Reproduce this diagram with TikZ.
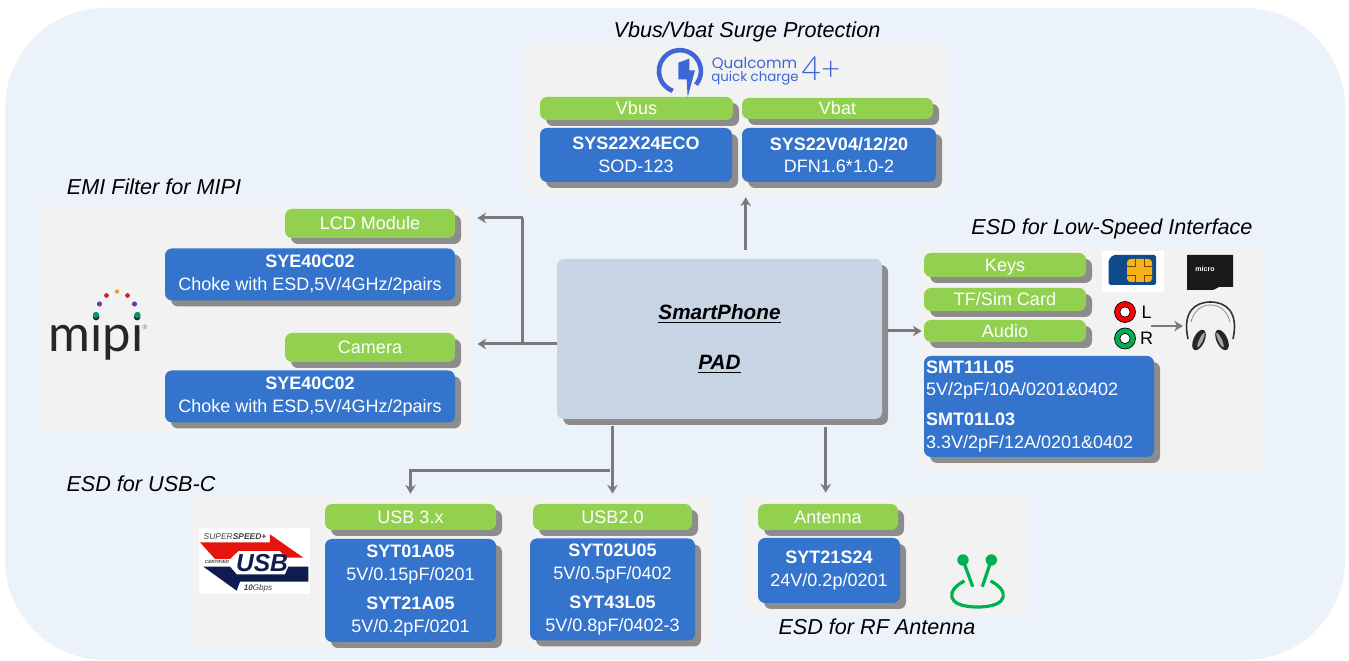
\documentclass[tikz,border=0pt]{standalone}
\usepackage{fontspec}
\setmainfont{Liberation Sans}
\newfontfamily\logofont{Poppins}
\newfontfamily\mipifont{Lato}
\newfontfamily\thinfont{Lato Light}
\usetikzlibrary{arrows.meta,calc,shadows}
\def\pxu{0.02cm}
\definecolor{pagebg}{HTML}{ECF2FA}
\definecolor{panelbg}{HTML}{F2F2F2}
\definecolor{barcol}{HTML}{92D050}
\definecolor{partcol}{HTML}{3574CC}
\definecolor{shadecol}{HTML}{8C8C8C}
\definecolor{phonecol}{HTML}{C7D4E4}
\definecolor{flowcol}{HTML}{7A7A7A}
\definecolor{qcblue}{HTML}{3F66D6}
\definecolor{usbnavy}{HTML}{101C50}
\definecolor{usbred}{HTML}{E5140E}
\definecolor{simblue}{HTML}{0F4A8A}
\definecolor{simgold}{HTML}{F5B21A}
\definecolor{antgreen}{HTML}{00B050}
\definecolor{dotteal}{HTML}{00937A}
\definecolor{dotviolet}{HTML}{6A3D9E}
\definecolor{dotred}{HTML}{D81E2C}
\definecolor{dotorange}{HTML}{F59A2E}
\tikzset{
  boxsize/.style 2 args={minimum width=#1*\pxu, minimum height=#2*\pxu, inner sep=0pt},
  raised/.style={rounded corners=7*\pxu, drop shadow={shadow xshift=6*\pxu, shadow yshift=-6*\pxu, opacity=1, fill=shadecol}},
  panel/.style 2 args={boxsize={#1}{#2}, fill=panelbg},
  greenbar/.style 2 args={boxsize={#1}{#2}, raised, fill=barcol, text=white, text height=8.5pt, text depth=1.5pt, font=\fontsize{10.25}{12}\selectfont},
  partbox/.style 2 args={boxsize={#1}{#2}, raised, fill=partcol, text=white, align=center, font=\fontsize{10.25}{12.8}\selectfont},
  heading/.style={inner sep=0pt, text height=9.6pt, text depth=1.4pt, font=\fontsize{12.3}{14}\selectfont\itshape},
  flow/.style={draw=flowcol, line width=3*\pxu, -{Stealth[length=5pt, width=6pt]}},
  flowline/.style={draw=flowcol, line width=3*\pxu},
  zoomed/.style={x=0.02cm/3, y=-0.02cm/3}
}
\begin{document}
\begin{tikzpicture}[x=\pxu, y=-\pxu]
  \useasboundingbox (0,0) rectangle (1349,661);
  \fill[pagebg, rounded corners=2cm] (5,8) rectangle (1345,660);

  \node[panel={424}{151}] (surgepanel) at (736,119.5) {};
  \node[panel={434}{227}] (mipipanel) at (255,318.5) {};
  \node[panel={344}{223}] (lowpanel) at (1092,357.5) {};
  \node[panel={518}{151}] (usbpanel) at (451,573.5) {};
  \node[panel={282}{118}] (rfpanel) at (887,556) {};

  \node[heading] (surgetitle) at (747,30) {Vbus/Vbat Surge Protection};
  \node[heading] (mipititle) at (154,187) {EMI Filter for MIPI};
  \node[heading] (lowtitle) at (1112,227) {ESD for Low-Speed Interface};
  \node[heading] (usbtitle) at (141,484) {ESD for USB-C};
  \node[heading] (rftitle) at (877,627) {ESD for RF Antenna};

  \node[greenbar={193}{23}] (vbus) at (636.5,108.5) {Vbus};
  \node[greenbar={191}{21}] (vbat) at (837.5,108.5) {Vbat};
  \node[partbox={192}{54}] (surgeA) at (636,155) {\textbf{SYS22X24ECO}\\SOD-123};
  \node[partbox={194}{54}] (surgeB) at (839,155) {\textbf{SYS22V04/12/20}\\DFN1.6*1.0-2};

  \node[greenbar={170}{29}] (lcd) at (370,223.5) {LCD Module};
  \node[partbox={290}{52}] (lcdpart) at (310,274.5) {\textbf{SYE40C02}\\Choke with ESD,5V/4GHz/2pairs};
  \node[greenbar={170}{29}] (camera) at (370,347.5) {Camera};
  \node[partbox={290}{52}] (campart) at (310,396.5) {\textbf{SYE40C02}\\Choke with ESD,5V/4GHz/2pairs};

  \node[greenbar={162}{24}] (keys) at (1005,265) {Keys};
  \node[greenbar={162}{23}] (card) at (1005,299.5) {TF/Sim Card};
  \node[greenbar={162}{22}] (audio) at (1005,331) {Audio};
  \node[partbox={230}{101}, text width=226*\pxu, align=left] (lowpart) at (1039,406.5)
    {\textbf{SMT11L05}\\5V/2pF/10A/0201\&0402\\[4.3pt]\textbf{SMT01L03}\\3.3V/2pF/12A/0201\&0402};

  \node[greenbar={171}{26}] (usbthree) at (410.5,517) {USB 3.x};
  \node[partbox={171}{103}] (usbthreepart) at (410.5,590.5)
    {\textbf{SYT01A05}\\5V/0.15pF/0201\\[4pt]\textbf{SYT21A05}\\5V/0.2pF/0201};
  \node[greenbar={159}{26}] (usbtwo) at (612.5,517) {USB2.0};
  \node[partbox={165}{102}] (usbtwopart) at (612.5,589.5)
    {\textbf{SYT02U05}\\5V/0.5pF/0402\\[4pt]\textbf{SYT43L05}\\5V/0.8pF/0402-3};

  \node[greenbar={140}{26}] (antenna) at (828,517) {Antenna};
  \node[partbox={142}{65}] (antennapart) at (829,570.5) {\textbf{SYT21S24}\\24V/0.2p/0201};

  \node[boxsize={325}{160}, raised, fill=phonecol, align=center, font=\fontsize{11.8}{14}\selectfont\bfseries\itshape] (phone) at (719.5,339)
    {\underline{SmartPhone}\\[14.5pt]\underline{PAD}};

  \coordinate (surgetap) at (745.7,230);
  \coordinate (rftap) at (825.7,470);
  \coordinate (camtap) at (522.7,344);
  \coordinate (lcdtap) at (522.7,218);
  \coordinate (usbsplit) at (610,471);
  \draw[flow, shorten <=9*\pxu, shorten >=2*\pxu] (phone.north -| surgetap) -- (surgepanel.south -| surgetap);
  \draw[flow, shorten >=5*\pxu] (phone.west |- camtap) -- (mipipanel.east |- camtap);
  \draw[flowline] (camtap) -- (lcdtap);
  \draw[flow, shorten >=5*\pxu] (lcdtap) -- (mipipanel.east |- lcdtap);
  \draw[flow, shorten <=6*\pxu, shorten >=2*\pxu] (phone.east |- audio.west) -- (audio.west);
  \draw[flow, shorten <=7*\pxu, shorten >=10*\pxu] (phone.south -| usbtwo.north) -- (usbtwo.north);
  \draw[flow, shorten >=10*\pxu] (usbsplit) -| (usbthree.north);
  \draw[flow, shorten <=8*\pxu, shorten >=4*\pxu] (phone.south -| rftap) -- (rfpanel.north -| rftap);

  \begin{scope}[shift={(650,42)}, zoomed]
    \draw[qcblue, line width=4.6*\pxu] (138,128) arc[start angle=40, end angle=-250, radius=63];
    \fill[qcblue] (85,62) -- (118,50) -- (118,85) -- (135,85) -- (113,165) -- (110,112) -- (85,112) -- cycle;
  \end{scope}
  \node[inner sep=0pt, text=qcblue, font=\logofont\fontsize{8.6}{9}\selectfont] (qcname) at (754.5,63.5) {Qualcomm};
  \node[inner sep=0pt, text=qcblue, font=\logofont\fontsize{7.6}{9}\selectfont] (qccharge) at (755,78) {quick charge};
  \node[inner sep=0pt, text=qcblue, font=\thinfont\fontsize{19}{20}\selectfont] (qcfour) at (821,69) {4+};

  \node[inner sep=0pt, text=black!85, font=\mipifont\fontsize{29}{30}\selectfont] (mipilogo) at (96,337) {mipi};
  \node[inner sep=0pt, text=black!60, font=\fontsize{3.5}{4}\selectfont] (mipireg) at (145,327) {\textregistered};
  \foreach \x/\y/\r/\c in {96/315/3.2/dotteal, 99.5/304/2.6/dotviolet, 106.5/295.5/2.4/dotred, 117/291.5/2.2/dotorange, 127.5/295.5/2.4/dotred, 134.5/304/2.6/dotviolet, 137.5/315/3.2/dotteal}{
    \fill[\c] (\x,\y) circle[radius=\r];
  }

  \fill[white] (199,528) rectangle (309.5,594);
  \begin{scope}[shift={(195,525)}, zoomed]
    \fill[usbred] (15,52) -- (60,102) -- (105,102) -- (130,78) -- (255,78) -- (272,98) -- (325,98) -- (225,28) -- (225,52) -- cycle;
    \fill[usbnavy] (25,125) -- (105,125) -- (125,148) -- (270,148) -- (280,125) -- (340,125) -- (340,170) -- (135,170) -- (125,197) -- cycle;
  \end{scope}
  \node[inner sep=0pt, text=usbnavy, font=\fontsize{14}{16}\selectfont\bfseries\itshape] (usbmark) at (262,563.5) {USB};
  \node[inner sep=0pt, text=black!75, font=\fontsize{4.8}{5}\selectfont\itshape] (usbspeed) at (235,537) {SUPER\textbf{SPEED+}};
  \node[inner sep=0pt, text=black!75, font=\fontsize{2.6}{3}\selectfont\bfseries\itshape] (usbcert) at (217,562) {CERTIFIED};
  \node[inner sep=0pt, text=black!75, font=\fontsize{4.6}{5}\selectfont\itshape] (usbrate) at (258,588) {\textbf{10}Gbps};

  \fill[white] (1102,251) rectangle (1164,292);
  \fill[simblue, rounded corners=1] (1113,255) -- (1156,255) -- (1156,285) -- (1108.5,285) -- (1108.5,260) -- cycle;
  \fill[simgold, rounded corners=2] (1127,259) rectangle (1152,282);
  \draw[orange!50!black, line width=0.3pt] (1135,259) -- (1135,266) -- (1127,266) (1144,259) -- (1144,266) -- (1152,266) (1135,282) -- (1135,275) -- (1127,275) (1144,282) -- (1144,275) -- (1152,275);
  \fill[black!90] (1187,255) -- (1233,255) -- (1233,287) -- (1219,287) -- (1213,290) -- (1187,290) -- cycle;
  \node[inner sep=0pt, text=white, font=\fontsize{4}{5}\selectfont\bfseries] (sdlogo) at (1205,269) {micro};

  \foreach \y/\c/\t in {312/red/L, 338.5/antgreen/R}{
    \draw[black, line width=0.7*\pxu, fill=\c] (1125,\y) circle[radius=10.5];
    \draw[black, line width=0.7*\pxu, fill=white] (1125,\y) circle[radius=5.2];
    \node[inner sep=0pt, font=\fontsize{10.25}{12}\selectfont] at (1146.5,\y) {\t};
  }
  \coordinate (jackout) at (1151,326);
  \coordinate (phonesin) at (1185,326);
  \draw[flow, line width=1.8*\pxu, shorten >=2*\pxu] (jackout) -- (phonesin);
  \draw[black!80, line width=1.6*\pxu] (1188,339) .. controls (1182,312) and (1195,302) .. (1210.5,302) .. controls (1226,302) and (1239,312) .. (1233,339);
  \draw[black!45, line width=0.8*\pxu] (1191,322) .. controls (1194,310) and (1202,305) .. (1210.5,305) .. controls (1219,305) and (1227,310) .. (1230,322);
  \fill[black!85] (1199,340) ellipse[x radius=5.5*\pxu, y radius=11*\pxu, rotate=-25];
  \fill[black!85] (1222,340) ellipse[x radius=5.5*\pxu, y radius=11*\pxu, rotate=25];
  \fill[black!35] (1201,340) ellipse[x radius=1.8*\pxu, y radius=8*\pxu, rotate=-25];
  \fill[black!35] (1220,340) ellipse[x radius=1.8*\pxu, y radius=8*\pxu, rotate=25];

  \fill[antgreen] (963,560) circle[radius=5.7] (991.3,560) circle[radius=5.7];
  \draw[antgreen, line width=3.2*\pxu] (963,560) -- (972.7,586.7) (991.3,560) -- (982.3,586.7);
  \draw[antgreen, line width=3.2*\pxu] (964.5,581) .. controls (946,590) and (945,607) .. (977.5,607) .. controls (1010,607) and (1009,590) .. (990.5,581);
\end{tikzpicture}
\end{document}
